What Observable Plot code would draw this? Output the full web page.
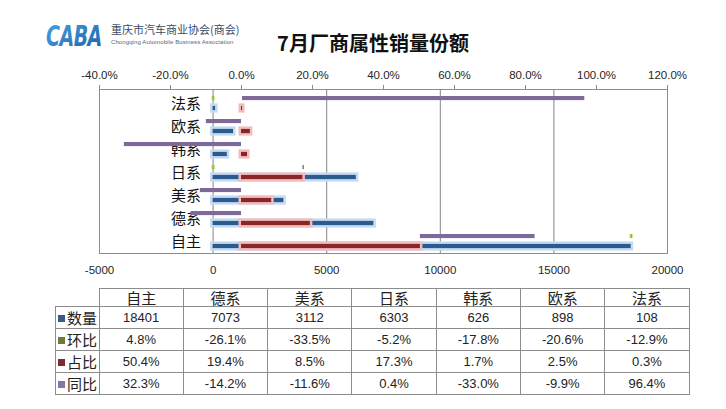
<!DOCTYPE html>
<html><head><meta charset="utf-8">
<script src="https://cdn.jsdelivr.net/npm/d3@7"></script>
<script src="https://cdn.jsdelivr.net/npm/@observablehq/plot@0.6"></script>
<style>
body{margin:0;background:#fff;}
#wrap{position:relative;width:726px;height:409px;overflow:hidden;background:#fff;font-family:"Liberation Sans","Noto Sans CJK SC",sans-serif;}
#chart{position:absolute;left:0;top:0;}
#logo{position:absolute;left:44px;top:21px;width:200px;height:30px;}
#logoMark{position:absolute;left:0;top:0;overflow:visible;}
#logoCn{position:absolute;left:67px;top:1px;font:11px "Noto Sans CJK SC";color:#3c4a66;white-space:nowrap;line-height:14px;}
#logoEn{position:absolute;left:67px;top:18px;font:6px "Liberation Sans";color:#5a6478;white-space:nowrap;letter-spacing:0.1px;line-height:7px;}
#title{position:absolute;left:0;width:746px;top:30px;text-align:center;font:bold 20px "Noto Sans CJK SC";color:#111;line-height:26px;}
#tbl{position:absolute;left:55px;top:288px;border-collapse:collapse;font-size:13px;color:#222;}
#tbl td{border:1px solid #8c8c8c;text-align:center;padding:0;height:21px;}
#tbl tr.h td{height:17px;font:15px "Noto Sans CJK SC";line-height:17px;}
#tbl td.l{text-align:left;font:15px "Noto Sans CJK SC";white-space:nowrap;padding-left:2px;line-height:20px;}
#tbl td.l span{display:inline-block;width:7px;height:7px;margin-right:2px;vertical-align:2px;}
</style></head><body>
<div id="wrap">
  <div id="logo">
    <svg id="logoMark" width="66" height="30"><defs><linearGradient id="lg" x1="0" x2="1" y1="0" y2="1"><stop offset="0" stop-color="#4aa3e0"/><stop offset="1" stop-color="#1d5fa8"/></linearGradient></defs>
      <g transform="translate(2,25) scale(1,1.45)"><text x="0" y="0" font-family="DejaVu Sans" font-weight="bold" font-style="italic" font-size="19" letter-spacing="-0.5" fill="url(#lg)">CABA</text></g></svg>
    <div id="logoCn">重庆市汽车商业协会(商会)</div><div id="logoEn">Chongqing Automobile Business Association</div></div>
  <div id="title">7月厂商属性销量份额</div>
  <div id="chart"></div>
  <table id="tbl"></table>
</div>
<script>
const categories = ["自主","德系","美系","日系","韩系","欧系","法系"];
const quantity = [18401, 7073, 3112, 6303, 626, 898, 108];
const mom = [4.8, -26.1, -33.5, -5.2, -17.8, -20.6, -12.9];
const share = [50.4, 19.4, 8.5, 17.3, 1.7, 2.5, 0.3];
const yoy = [32.3, -14.2, -11.6, 0.4, -33.0, -9.9, 96.4];
const seriesNames = ["数量","环比","占比","同比"];
const qtyTicks = [-5000, 0, 5000, 10000, 15000, 20000];
const gridTicks = [0, 5000, 10000, 15000];
const pctTicks = [-40, -20, 0, 20, 40, 60, 80, 100, 120];
const qtyDomain = [-5000, 20000];
const pctDomain = [-40, 120];

const colors = {blue:"#2b5a8f", blueHalo:"#c4d9f2", red:"#8a2627", redHalo:"#f0bcbc", purple:"#7d6a99", green:"#6f8f2f", greenHalo:"#cdee8e"};
const legendColors = ["#3b5b84","#6e7b3e","#7a2d2d","#8676a4"];

// secondary (percent) axis aligned onto the primary quantity scale, as in the source chart
const pq = p => qtyDomain[0] + (p - pctDomain[0]) * (qtyDomain[1] - qtyDomain[0]) / (pctDomain[1] - pctDomain[0]);
const qp = q => pctDomain[0] + (q - qtyDomain[0]) * (pctDomain[1] - pctDomain[0]) / (qtyDomain[1] - qtyDomain[0]);

const rows = categories.map((c, i) => ({cat: c, qty: quantity[i], mom: mom[i], share: share[i], yoy: yoy[i]}));

const up = {insetTop: 5, insetBottom: 13.9};
const low = {insetTop: 14.9, insetBottom: 3.9};

const chart = Plot.plot({
  width: 726, height: 280,
  marginTop: 89, marginBottom: 27, marginLeft: 99, marginRight: 59,
  x: {domain: qtyDomain, label: null},
  y: {domain: categories.slice().reverse(), padding: 0, axis: null},
  style: {fontFamily: "'Liberation Sans', sans-serif", fontSize: "11.5px", color: "#262626", background: "transparent"},
  marks: [
    Plot.gridX(gridTicks, {stroke: "#858585", strokeOpacity: 1}),
    Plot.frame({stroke: "#8c8c8c"}),
    Plot.axisX(pctTicks.map(pq), {anchor: "top", label: null, tickSize: 5, tickPadding: 6, stroke: "#8c8c8c", fill: "#262626",
      tickFormat: q => Math.round(qp(q)).toFixed(1) + "%"}),
    Plot.axisX(qtyTicks, {anchor: "bottom", label: null, tickSize: 0, tickPadding: 12, fill: "#262626", tickFormat: d => String(d)}),
    Plot.text(rows, {x: 0, y: "cat", text: "cat", textAnchor: "end", dx: -12, dy: 1, fontSize: 15, fontFamily: "'Noto Sans CJK SC'", fill: "#111"}),
    // 数量
    Plot.barX(rows, {x1: 0, x2: "qty", y: "cat", ...low, fill: colors.blueHalo, stroke: colors.blueHalo, strokeWidth: 5, ariaLabel: "halo"}),
    Plot.barX(rows, {x1: 0, x2: "qty", y: "cat", ...low, fill: colors.blue}),
    // 占比
    Plot.barX(rows, {x1: () => pq(0), x2: d => pq(d.share), y: "cat", ...low, fill: colors.redHalo, stroke: colors.redHalo, strokeWidth: 5, ariaLabel: "halo"}),
    Plot.barX(rows, {x1: () => pq(0), x2: d => pq(d.share), y: "cat", ...low, fill: colors.red}),
    // 环比 (stacked on 数量)
    Plot.tickX(rows, {x: d => d.mom > 0 ? d.qty : 0, y: "cat", ...up, stroke: colors.greenHalo, strokeWidth: 4, ariaLabel: "halo"}),
    Plot.tickX(rows, {x: d => d.mom > 0 ? d.qty : 0, y: "cat", ...up, stroke: colors.green, strokeWidth: 1}),
    // 同比 (stacked on 占比)
    Plot.barX(rows, {x1: d => pq(d.yoy > 0 ? d.share : 0), x2: d => pq((d.yoy > 0 ? d.share : 0) + d.yoy), y: "cat", ...up, fill: colors.purple})
  ]
});
document.getElementById("chart").appendChild(chart);
const svg = d3.select(chart);
svg.insert("defs", ":first-child").html('<filter id="glow" x="-50%" y="-150%" width="200%" height="400%"><feGaussianBlur stdDeviation="1.6"/></filter>');
svg.selectAll('g[aria-label="halo"]').attr("filter", "url(#glow)");

// data table
const tbl = d3.select("#tbl");
const colW = 84.3;
const head = tbl.append("tr").attr("class", "h");
head.append("td").style("border", "none").style("width", "43px");
categories.forEach(c => head.append("td").style("width", (colW - 1) + "px").text(c));
const series = [
  quantity.map(v => String(v)),
  mom.map(v => v.toFixed(1) + "%"),
  share.map(v => v.toFixed(1) + "%"),
  yoy.map(v => v.toFixed(1) + "%")
];
seriesNames.forEach((n, i) => {
  const tr = tbl.append("tr");
  const l = tr.append("td").attr("class", "l");
  l.append("span").style("background", legendColors[i]);
  l.append("tspan").text(n);
  series[i].forEach(v => tr.append("td").text(v));
});
</script>
</body></html>
